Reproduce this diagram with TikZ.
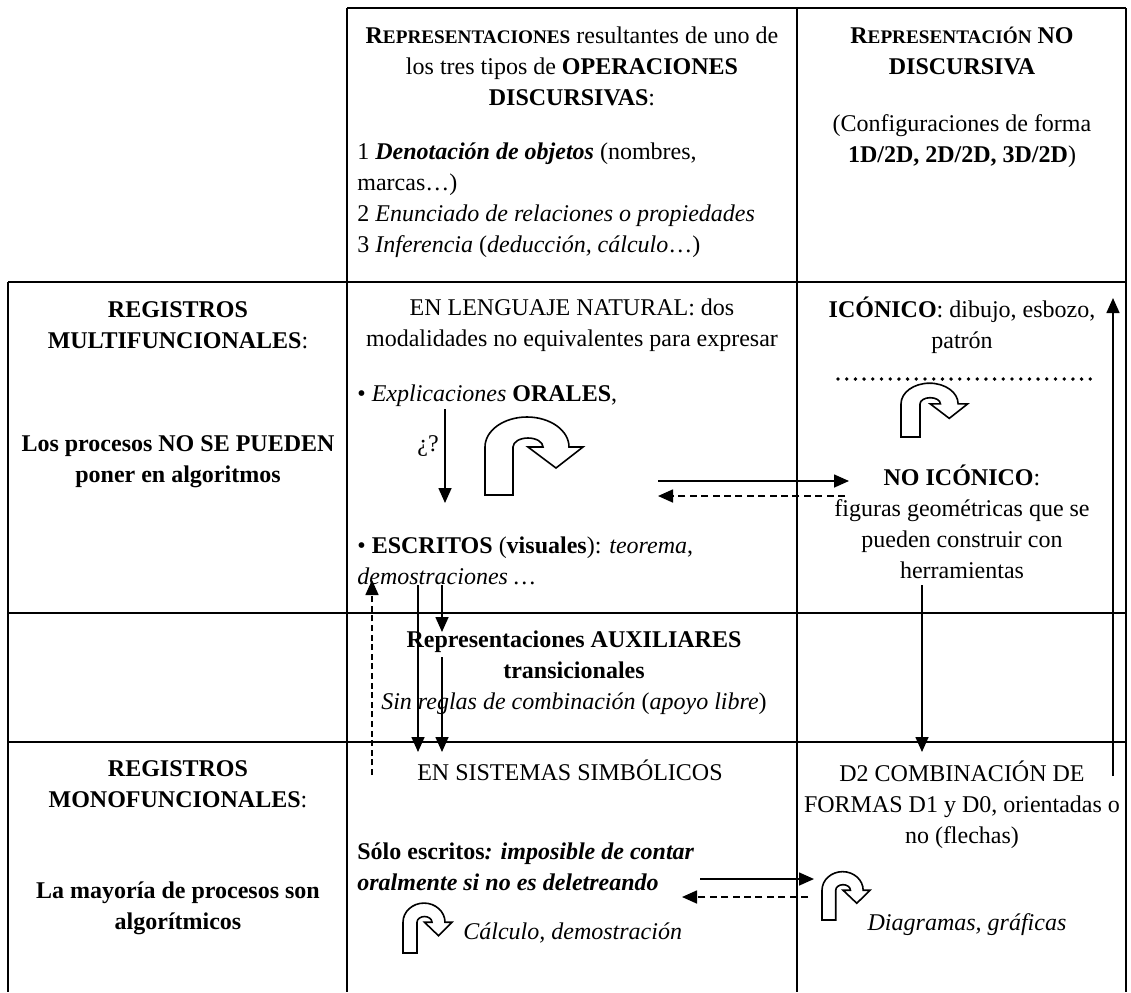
\documentclass[tikz,border=0pt]{standalone}
\usepackage{fontspec}
\setmainfont{Liberation Serif}
\usetikzlibrary{arrows.meta}
\newcommand\fsc[2]{#1{\fontsize{9.6}{10}\selectfont #2}}
\tikzset{
  tab/.style={line width=1.1pt},
  conn/.style={line width=0.8pt,-{Triangle[length=7.5pt,width=6.5pt]}},
  dconn/.style={conn,dash pattern=on 3.5pt off 2.2pt},
  txt/.style={inner sep=0pt,align=center},
  ltxt/.style={inner sep=0pt,align=left,anchor=west},
  uturnline/.style={line width=0.8pt,fill=white,line join=miter},
  uturn/.pic={\draw[uturnline,yscale=-1] (0,0) -- (0,48)
     arc[start angle=180,end angle=0,x radius=42,y radius=30]
     -- (98,48) -- (71,27) -- (43,48) -- (58,48)
     arc[start angle=0,end angle=180,x radius=15,y radius=9]
     -- (28,0) -- cycle;}
}
\begin{document}
\begin{tikzpicture}[x=0.5pt,y=-0.5pt,font=\fontsize{12}{15.5}\selectfont]
\useasboundingbox (0,0) rectangle (1131,992);
% table grid
\draw[tab] (347,8) -- (1126,8);
\draw[tab] (8,282) -- (1126,282);
\draw[tab] (8,613) -- (1126,613);
\draw[tab] (8,742) -- (1126,742);
\draw[tab] (8,282) -- (8,992);
\draw[tab] (347,8) -- (347,992);
\draw[tab] (797,8) -- (797,992);
\draw[tab] (1126,8) -- (1126,992);

% row 1
\node[txt] (hdr2) at (572,66) {\textbf{\fsc{R}{EPRESENTACIONES}} resultantes de uno de\\los tres tipos de \textbf{OPERACIONES}\\\textbf{DISCURSIVAS}:};
\node[ltxt] (ops) at (357,200) {1 \textbf{\textit{Denotación de objetos}} (nombres,\\marcas\ldots)\\2 \textit{Enunciado de relaciones o propiedades}\\3 \textit{Inferencia} (\textit{deducción, cálculo}\ldots)};
\node[txt] (hdr3) at (962,51) {\textbf{\fsc{R}{EPRESENTACIÓN} NO}\\\textbf{DISCURSIVA}};
\node[txt] (conf) at (962,141) {(Configuraciones de forma\\\textbf{1D/2D, 2D/2D, 3D/2D})};

% row 2
\node[txt] (multi) at (178,325) {\textbf{REGISTROS}\\\textbf{MULTIFUNCIONALES}:};
\node[txt] (nopued) at (178,462) {\textbf{Los procesos NO SE PUEDEN}\\\textbf{poner en algoritmos}};
\node[txt] (natural) at (572,325) {EN LENGUAJE NATURAL: dos\\modalidades no equivalentes para expresar};
\node[ltxt] (orales) at (357,396) {• \textit{Explicaciones} \textbf{ORALES},};
\node[txt] (quest) at (428,446) {¿?};
\node[ltxt] (escritos) at (357,561) {• \textbf{ESCRITOS} (\textbf{visuales}): \textit{teorema},\\\textit{demostraciones \ldots}};
\node[txt] (iconico) at (962,325) {\textbf{ICÓNICO}: dibujo, esbozo,\\patrón};
\node[txt] (noicon) at (962,522) {\textbf{NO ICÓNICO}:\\figuras geométricas que se\\pueden construir con\\herramientas};

% row 3
\node[txt] (aux) at (574,673) {\textbf{Representaciones AUXILIARES}\\\textbf{transicionales}\\\textit{Sin reglas de combinación} (\textit{apoyo libre})};

% row 4
\node[txt] (mono) at (178,784) {\textbf{REGISTROS}\\\textbf{MONOFUNCIONALES}:};
\node[txt] (mayor) at (178,908) {\textbf{La mayoría de procesos son}\\\textbf{algorítmicos}};
\node[txt] (simb) at (570,770) {EN SISTEMAS SIMBÓLICOS};
\node[ltxt] (solo) at (357,867) {\textbf{Sólo escritos\textit{: imposible de contar}}\\\textbf{\textit{oralmente si no es deletreando}}};
\node[ltxt] (calc) at (463,933) {\textit{Cálculo, demostración}};
\node[txt] (d2) at (962,805) {D2 COMBINACIÓN DE\\FORMAS D1 y D0, orientadas o\\no (flechas)};
\node[txt] (diag) at (967,925) {\textit{Diagramas, gráficas}};

% dotted separator
\coordinate (dotA) at (838,379);
\coordinate (dotB) at (1097,379);
\draw[line width=1.9pt,line cap=round,dash pattern=on 0pt off 4.35pt] (dotA) -- (dotB);

% u-turn arrows
\pic[xscale=1,yscale=1] at (485,495) {uturn};
\pic[xscale=0.68,yscale=0.69] at (901,437) {uturn};
\pic[xscale=0.5,yscale=0.64] at (403,953) {uturn};
\pic[xscale=0.49,yscale=0.62] at (822,920) {uturn};

% connector end points
\coordinate (q1) at (445,409);  \coordinate (q2) at (445,503);
\coordinate (h1) at (658,481);  \coordinate (h2) at (849,481);
\coordinate (h3) at (845,496);  \coordinate (h4) at (658,496);
\coordinate (v1) at (372,775);  \coordinate (v2) at (372,580);
\coordinate (v3) at (418,585);  \coordinate (v4) at (418,752);
\coordinate (v5) at (442,585);  \coordinate (v6) at (442,632);
\coordinate (v7) at (442,657);  \coordinate (v8) at (442,752);
\coordinate (c1) at (922,585);  \coordinate (c2) at (922,752);
\coordinate (u1) at (1113,776); \coordinate (u2) at (1113,298);
\coordinate (b1) at (700,879);  \coordinate (b2) at (814,879);
\coordinate (b3) at (808,897);  \coordinate (b4) at (682,897);

\draw[conn] (q1) -- (q2);
\draw[conn] (h1) -- (h2);
\draw[dconn] (h3) -- (h4);
\draw[dconn,dash pattern=on 3pt off 1.8pt] (v1) -- (v2);
\draw[conn] (v3) -- (v4);
\draw[conn] (v5) -- (v6);
\draw[conn] (v7) -- (v8);
\draw[conn] (c1) -- (c2);
\draw[conn] (u1) -- (u2);
\draw[conn] (b1) -- (b2);
\draw[dconn] (b3) -- (b4);
\end{tikzpicture}
\end{document}
